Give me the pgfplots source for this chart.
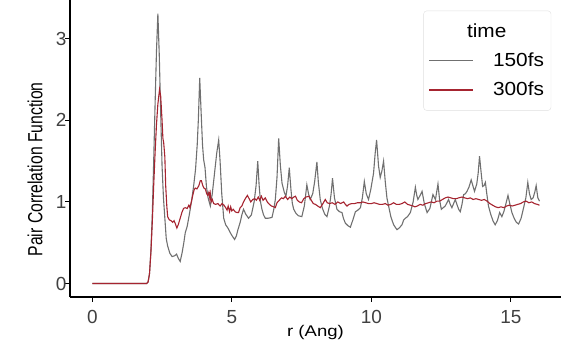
\documentclass[border=0pt]{standalone}
\usepackage{fontspec}
\setmainfont{Liberation Sans}[FakeStretch=1.2]
\newfontfamily\ylabfont{Liberation Sans}
\newfontfamily\tickfont{Liberation Sans}
\newfontfamily\legfont{Liberation Sans}[FakeStretch=1.1]
\usepackage{graphicx}
\usepackage{pgfplots}
\pgfplotsset{compat=1.18}
\definecolor{gline}{RGB}{112,112,112}
\definecolor{rline}{RGB}{166,36,48}
\pgfplotstableread{
r g
0 0
1.95 0
2.0 0.02
2.05 0.12
2.1 0.4
2.15 0.85
2.2 1.5
2.25 2.2
2.3 2.85
2.35 3.31
2.4 2.8
2.45 2.1
2.5 1.44
2.55 1.05
2.6 0.8
2.65 0.55
2.7 0.46
2.78 0.37
2.86 0.33
2.95 0.34
3.02 0.36
3.08 0.31
3.15 0.27
3.22 0.38
3.28 0.5
3.33 0.62
3.4 0.7
3.48 0.85
3.56 1.02
3.63 1.19
3.7 1.4
3.76 1.7
3.8 2.0
3.85 2.52
3.9 2.1
3.95 1.7
3.99 1.52
4.04 1.42
4.09 1.19
4.15 1.05
4.23 0.95
4.3 1.1
4.38 1.35
4.46 1.6
4.53 1.76
4.58 1.5
4.64 1.1
4.71 0.8
4.78 0.72
4.86 0.68
4.95 0.62
5.02 0.58
5.10 0.54
5.16 0.58
5.22 0.66
5.30 0.75
5.36 0.84
5.42 0.91
5.5 0.85
5.6 0.80
5.7 0.84
5.8 1.0
5.87 1.2
5.93 1.50
5.98 1.2
6.03 1.0
6.08 0.91
6.14 0.84
6.2 0.80
6.3 0.80
6.44 0.81
6.5 0.9
6.56 1.03
6.62 1.3
6.68 1.78
6.74 1.45
6.8 1.23
6.88 1.12
6.94 1.07
7.0 1.2
7.06 1.42
7.12 1.15
7.17 0.98
7.22 0.91
7.3 0.86
7.39 0.83
7.51 0.82
7.6 0.95
7.69 1.21
7.75 1.1
7.81 1.03
7.9 1.1
7.97 1.25
8.05 1.49
8.1 1.25
8.17 1.03
8.25 0.92
8.33 0.85
8.41 0.82
8.5 0.95
8.56 1.1
8.61 1.29
8.68 1.05
8.77 0.91
8.86 0.88
8.95 0.87
9.0 0.8
9.07 0.74
9.16 0.71
9.25 0.69
9.34 0.78
9.43 0.88
9.52 0.9
9.61 0.93
9.68 1.05
9.75 1.25
9.82 1.1
9.9 1.03
9.98 1.15
10.08 1.35
10.14 1.6
10.19 1.76
10.26 1.44
10.32 1.30
10.38 1.38
10.44 1.50
10.5 1.25
10.56 1.05
10.62 0.95
10.7 0.82
10.8 0.72
10.92 0.66
11.0 0.68
11.1 0.72
11.16 0.78
11.22 0.80
11.3 0.82
11.4 0.87
11.5 1.0
11.58 1.18
11.63 1.08
11.67 1.03
11.75 1.08
11.82 1.13
11.9 0.98
12.0 0.87
12.1 0.92
12.21 1.09
12.27 1.05
12.3 1.03
12.39 1.22
12.45 1.02
12.51 0.91
12.58 0.93
12.65 0.95
12.77 1.03
12.83 0.97
12.89 0.93
12.95 0.98
13.01 1.03
13.08 0.96
13.13 0.91
13.19 0.88
13.25 0.97
13.31 1.09
13.37 1.1
13.43 1.13
13.5 1.18
13.58 1.27
13.64 1.2
13.70 1.13
13.78 1.22
13.83 1.35
13.88 1.56
13.94 1.35
13.99 1.19
14.04 1.2
14.09 1.24
14.14 1.1
14.2 0.95
14.28 0.85
14.36 0.77
14.44 0.72
14.52 0.77
14.6 0.87
14.68 0.82
14.75 0.88
14.82 0.97
14.9 1.08
14.97 0.97
15.04 0.87
15.12 0.8
15.2 0.75
15.28 0.73
15.37 0.8
15.46 0.93
15.54 1.05
15.61 1.24
15.67 1.1
15.73 1.03
15.8 1.05
15.86 1.12
15.91 1.20
15.97 1.05
16.03 1.01
}\tablegray
\pgfplotstableread{
r g
0 0
1.95 0
2.0 0.02
2.05 0.12
2.1 0.38
2.15 0.75
2.2 1.2
2.25 1.6
2.3 1.95
2.35 2.2
2.41 2.38
2.45 2.3
2.5 2.0
2.53 1.78
2.56 1.72
2.6 1.55
2.63 1.2
2.67 0.95
2.7 0.82
2.76 0.78
2.82 0.77
2.88 0.75
2.93 0.77
2.98 0.73
3.03 0.68
3.08 0.72
3.15 0.8
3.21 0.87
3.27 0.92
3.33 0.93
3.4 0.92
3.46 0.96
3.5 0.93
3.55 1.0
3.6 1.08
3.65 1.15
3.69 1.17
3.75 1.16
3.82 1.2
3.87 1.26
3.91 1.26
3.96 1.2
4.0 1.17
4.05 1.16
4.1 1.1
4.14 1.08
4.18 1.12
4.21 1.05
4.23 1.1
4.26 1.0
4.3 1.03
4.35 0.98
4.42 0.97
4.5 0.98
4.58 0.95
4.65 0.98
4.72 0.96
4.78 0.93
4.83 0.9
4.87 0.95
4.92 0.88
4.96 0.94
5.0 0.89
5.05 0.91
5.12 0.88
5.18 0.87
5.24 0.87
5.3 0.93
5.36 0.95
5.42 1.0
5.5 1.05
5.56 1.08
5.62 1.04
5.68 1.0
5.75 1.03
5.82 1.04
5.88 1.02
5.95 1.06
6.0 1.02
6.06 1.07
6.12 1.02
6.2 1.05
6.27 1.0
6.35 0.97
6.42 0.95
6.5 0.94
6.56 0.93
6.62 0.99
6.7 1.02
6.78 1.05
6.85 1.04
6.92 1.07
7.0 1.03
7.08 1.06
7.15 1.04
7.22 1.06
7.28 1.07
7.35 1.02
7.42 1.0
7.5 0.99
7.58 1.04
7.66 1.06
7.76 1.07
7.85 1.02
7.92 0.98
8.0 0.97
8.08 0.95
8.17 0.93
8.25 0.97
8.35 1.03
8.42 0.99
8.5 0.98
8.6 0.99
8.7 0.97
8.8 1.0
8.9 0.98
9.01 1.0
9.07 0.97
9.13 0.95
9.2 0.97
9.3 0.98
9.4 0.98
9.5 0.99
9.6 0.99
9.7 1.0
9.8 0.99
9.9 0.98
10.0 0.98
10.1 0.99
10.2 0.98
10.3 0.97
10.4 0.97
10.5 0.98
10.6 0.96
10.7 0.97
10.8 0.99
10.9 0.97
11.0 0.97
11.1 0.98
11.2 1.0
11.3 0.97
11.4 0.96
11.5 0.95
11.56 0.94
11.65 0.95
11.75 0.97
11.85 0.96
11.95 0.98
12.05 0.99
12.15 1.0
12.25 0.99
12.35 1.01
12.45 1.01
12.55 1.03
12.65 1.05
12.75 1.06
12.85 1.05
12.95 1.04
13.05 1.04
13.13 1.05
13.25 1.06
13.35 1.05
13.45 1.04
13.55 1.05
13.65 1.03
13.75 1.04
13.85 1.03
13.95 1.02
14.05 1.03
14.15 1.01
14.25 0.98
14.35 0.96
14.45 0.94
14.55 0.93
14.65 0.94
14.75 0.93
14.85 0.95
14.95 0.96
15.05 0.95
15.15 0.96
15.25 0.97
15.35 0.98
15.45 1.0
15.55 1.01
15.65 0.99
15.75 1.0
15.85 0.98
15.95 0.97
16.03 0.96
}\tablered
\begin{document}
\begin{tikzpicture}
\useasboundingbox (-70bp,-54bp) rectangle (492bp,297bp);
\begin{axis}[
  at={(0,0)}, anchor=south west,
  scale only axis, width=491bp, height=297bp,
  xmin=-0.8, xmax=16.8, ymin=-0.1655, ymax=3.476,
  axis x line*=bottom, axis y line*=left,
  axis line style={line width=1.4bp, black, -},
  xtick={0,5,10,15}, ytick={0,1,2,3},
  minor tick num=0,
  tick style={line width=1bp, black},
  major tick length=4.5bp, tick align=outside,
  /pgf/number format/assume math mode=true,
  ticklabel style={font=\tickfont\fontsize{19}{19}\selectfont, text=black!75},
  xticklabel style={yshift=-5bp},
  yticklabel style={xshift=4.5bp},
  xlabel={r (Ang)},
  ylabel={\ylabfont\scalebox{1}[1.3]{Pair Correlation Function}},
  xlabel style={at={([yshift=-39bp]axis description cs:0.5,0)}, anchor=base, font=\fontsize{15.5}{15.5}\selectfont},
  ylabel style={at={([xshift=-35bp]axis description cs:0,0.43)}, anchor=center, font=\fontsize{15.8}{15.8}\selectfont},
  legend style={at={(0.98,0.964)}, anchor=north east, draw=black!12, rounded corners=3bp, fill=white,
    font=\legfont\fontsize{19}{19}\selectfont, inner xsep=5bp, inner ysep=11bp, row sep=10bp,
    /tikz/every odd column/.append style={column sep=17bp}},
  legend cell align=left,
  legend image code/.code={\draw[#1] (0bp,0bp) -- (44bp,0bp);},
]
\addlegendimage{empty legend}
\addlegendentry{\hspace*{-26bp}time}
\addlegendimage{draw=gline, line width=1.4bp}
\addlegendentry{150fs}
\addlegendimage{draw=rline, line width=1.4bp}
\addlegendentry{300fs}
\addplot[gline, line width=1.1bp, forget plot] table[x=r, y=g] {\tablegray};
\addplot[rline, line width=1.1bp, forget plot] table[x=r, y=g] {\tablered};
\end{axis}
\end{tikzpicture}
\end{document}
